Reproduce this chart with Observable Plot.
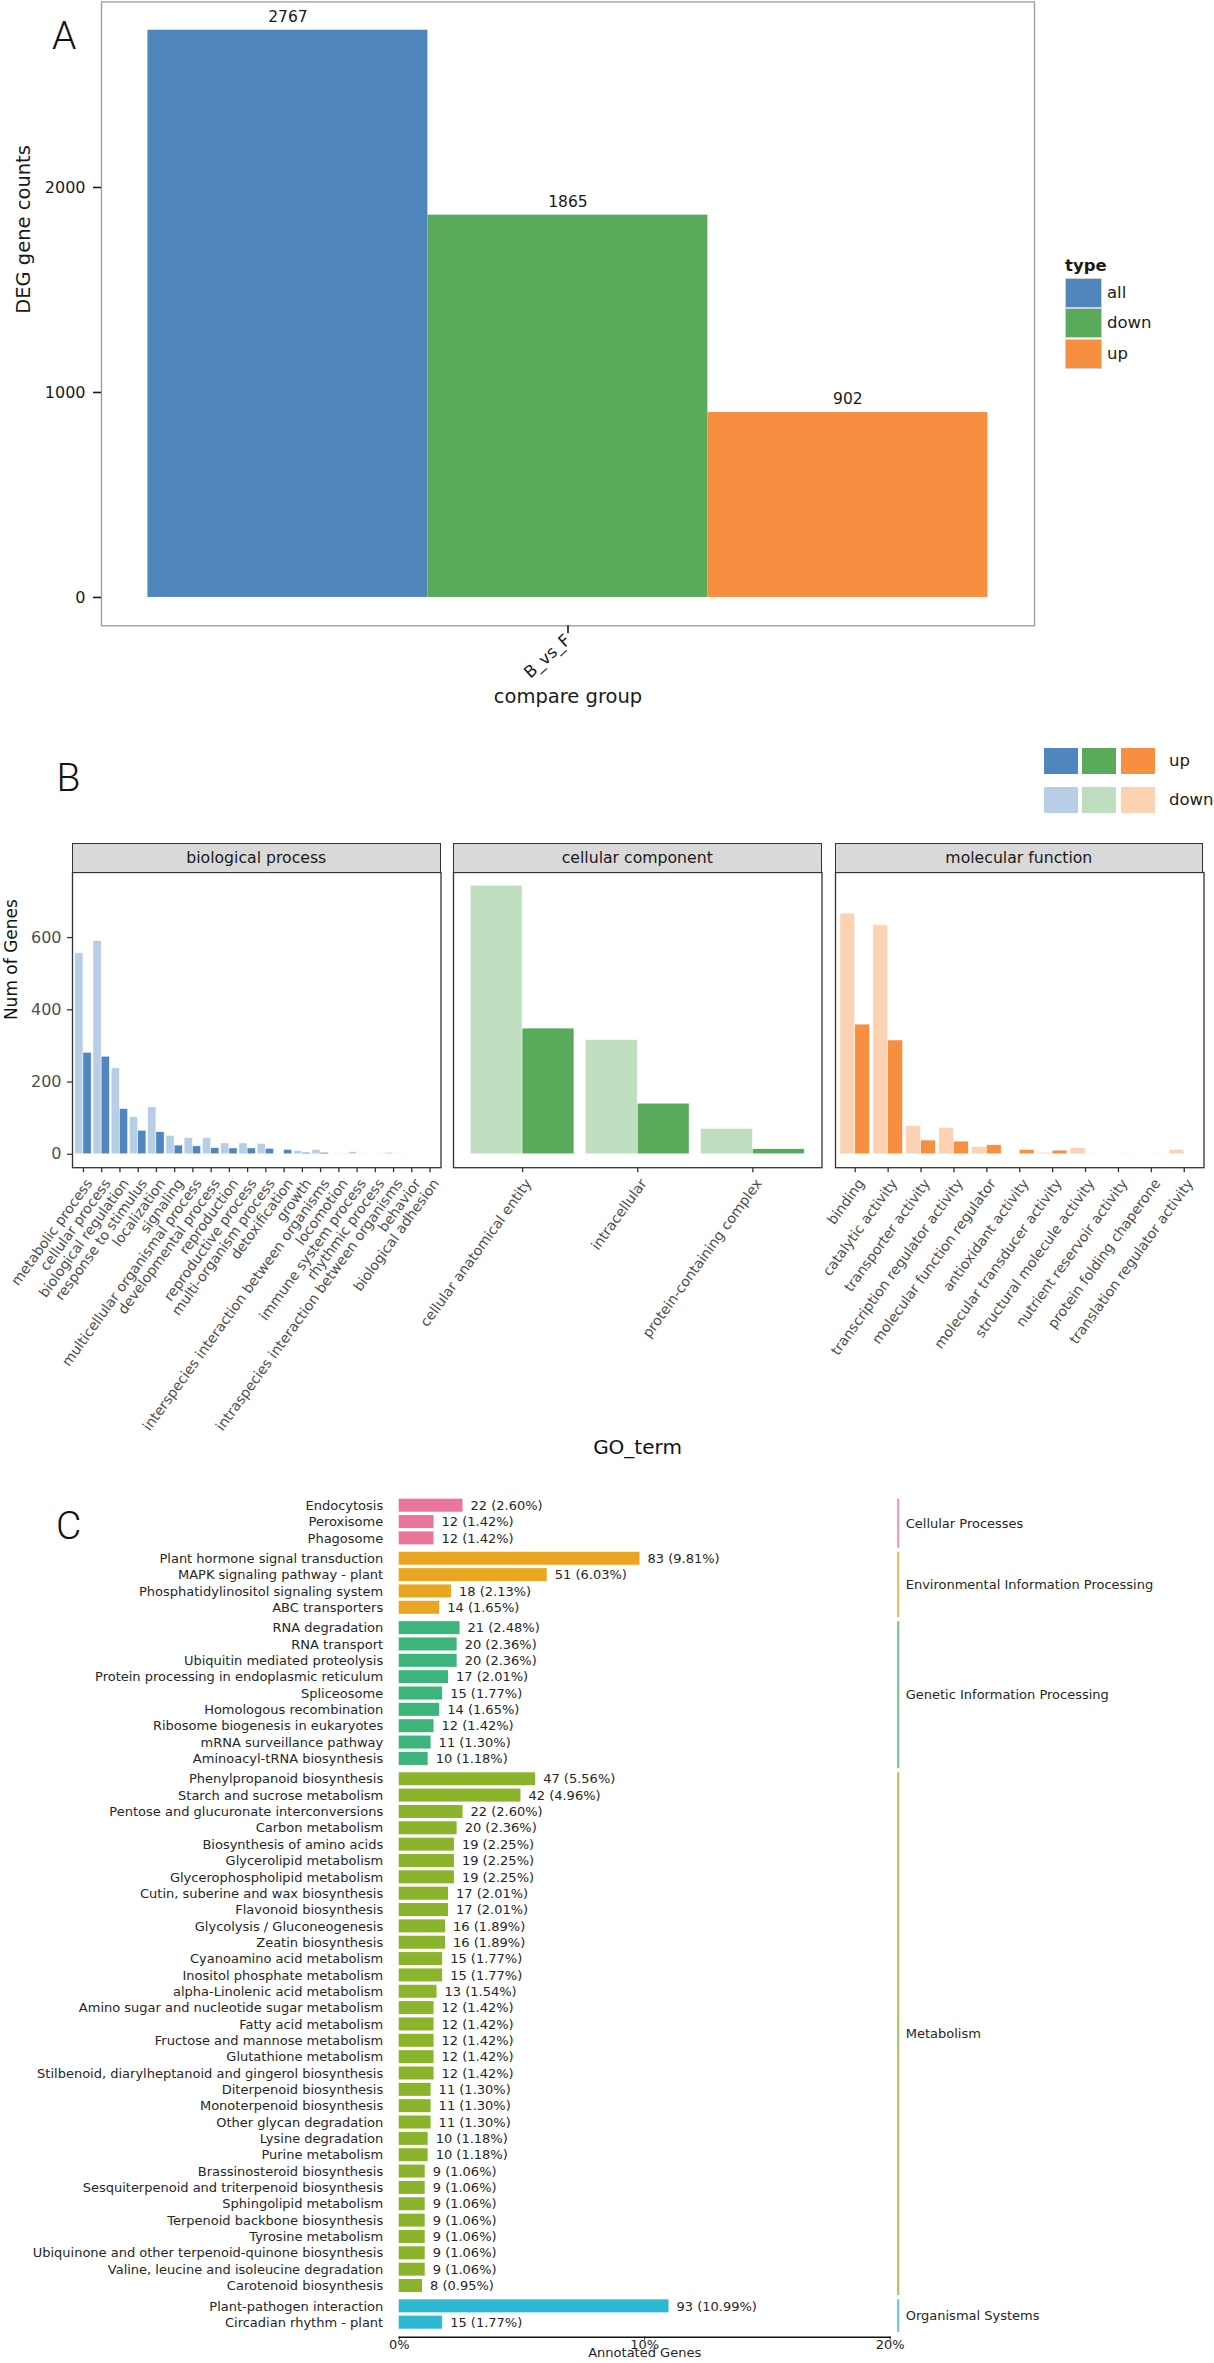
<!DOCTYPE html>
<html><head><meta charset="utf-8">
<script src="https://cdn.jsdelivr.net/npm/d3@7"></script>
<script src="https://cdn.jsdelivr.net/npm/@observablehq/plot@0.6"></script>
<style>
body{margin:0;background:#fff;}
#fig{position:relative;width:1214px;height:2363px;overflow:hidden;background:#fff;font-family:"DejaVu Sans",sans-serif;}
.t{position:absolute;line-height:1;white-space:nowrap;}
.box{position:absolute;box-sizing:border-box;}
.plotwrap{position:absolute;}
.plotwrap svg{overflow:visible;}
</style></head><body><div id="fig"></div>
<script>
// ---------- Panel A data ----------
const compareGroups = ["B_vs_F"];
const degTypes = ["all", "down", "up"];
const degCounts = [2767, 1865, 902];
const degColors = ["#4E86BD", "#5AAA5B", "#F68F40"];
const degTicks = [0, 1000, 2000];

// ---------- Panel B data ----------
const goOntologies = ["biological process", "cellular component", "molecular function"];
const goDarkColors = ["#4E86BD", "#5AAA5B", "#F68F40"];
const goLightColors = ["#B8CEE6", "#BFDEBF", "#FCD2B2"];
const goDirections = ["up", "down"];
const bpTerms = ["metabolic process", "cellular process", "biological regulation", "response to stimulus", "localization", "signaling", "multicellular organismal process", "developmental process", "reproduction", "reproductive process", "multi-organism process", "detoxification", "growth", "interspecies interaction between organisms", "locomotion", "immune system process", "rhythmic process", "intraspecies interaction between organisms", "behavior", "biological adhesion"];
const bpUp   = [281, 270, 125, 65, 61, 24, 22, 17, 16, 16, 15, 12, 4, 4, 1, 1, 1, 1, 0, 0];
const bpDown = [557, 590, 238, 103, 130, 51, 45, 45, 30, 30, 29, 1, 9, 12, 1, 6, 0, 4, 1, 1];
const ccTerms = ["cellular anatomical entity", "intracellular", "protein-containing complex"];
const ccUp   = [348, 140, 14];
const ccDown = [743, 316, 70];
const mfTerms = ["binding", "catalytic activity", "transporter activity", "transcription regulator activity", "molecular function regulator", "antioxidant activity", "molecular transducer activity", "structural molecule activity", "nutrient reservoir activity", "protein folding chaperone", "translation regulator activity"];
const mfUp   = [359, 315, 38, 35, 25, 12, 10, 1, 1, 1, 0];
const mfDown = [666, 634, 78, 73, 20, 1, 4, 17, 1, 0, 12];
const goTicks = [0, 200, 400, 600];

// ---------- Panel C data ----------
const keggClasses = ["Cellular Processes", "Environmental Information Processing", "Genetic Information Processing", "Metabolism", "Organismal Systems"];
const keggClassColors = ["#E9769A", "#EAA623", "#3DB47B", "#8AB42B", "#2DB9D1"];
const keggClassSizes = [3, 4, 9, 32, 2];
const keggPathways = ["Endocytosis", "Peroxisome", "Phagosome",
 "Plant hormone signal transduction", "MAPK signaling pathway - plant", "Phosphatidylinositol signaling system", "ABC transporters",
 "RNA degradation", "RNA transport", "Ubiquitin mediated proteolysis", "Protein processing in endoplasmic reticulum", "Spliceosome", "Homologous recombination", "Ribosome biogenesis in eukaryotes", "mRNA surveillance pathway", "Aminoacyl-tRNA biosynthesis",
 "Phenylpropanoid biosynthesis", "Starch and sucrose metabolism", "Pentose and glucuronate interconversions", "Carbon metabolism", "Biosynthesis of amino acids", "Glycerolipid metabolism", "Glycerophospholipid metabolism", "Cutin, suberine and wax biosynthesis", "Flavonoid biosynthesis", "Glycolysis / Gluconeogenesis", "Zeatin biosynthesis", "Cyanoamino acid metabolism", "Inositol phosphate metabolism", "alpha-Linolenic acid metabolism", "Amino sugar and nucleotide sugar metabolism", "Fatty acid metabolism", "Fructose and mannose metabolism", "Glutathione metabolism", "Stilbenoid, diarylheptanoid and gingerol biosynthesis", "Diterpenoid biosynthesis", "Monoterpenoid biosynthesis", "Other glycan degradation", "Lysine degradation", "Purine metabolism", "Brassinosteroid biosynthesis", "Sesquiterpenoid and triterpenoid biosynthesis", "Sphingolipid metabolism", "Terpenoid backbone biosynthesis", "Tyrosine metabolism", "Ubiquinone and other terpenoid-quinone biosynthesis", "Valine, leucine and isoleucine degradation", "Carotenoid biosynthesis",
 "Plant-pathogen interaction", "Circadian rhythm - plant"];
const keggCounts = [22, 12, 12,
 83, 51, 18, 14,
 21, 20, 20, 17, 15, 14, 12, 11, 10,
 47, 42, 22, 20, 19, 19, 19, 17, 17, 16, 16, 15, 15, 13, 12, 12, 12, 12, 12, 11, 11, 11, 10, 10, 9, 9, 9, 9, 9, 9, 9, 8,
 93, 15];
const keggPercents = [2.60, 1.42, 1.42,
 9.81, 6.03, 2.13, 1.65,
 2.48, 2.36, 2.36, 2.01, 1.77, 1.65, 1.42, 1.30, 1.18,
 5.56, 4.96, 2.60, 2.36, 2.25, 2.25, 2.25, 2.01, 2.01, 1.89, 1.89, 1.77, 1.77, 1.54, 1.42, 1.42, 1.42, 1.42, 1.42, 1.30, 1.30, 1.30, 1.18, 1.18, 1.06, 1.06, 1.06, 1.06, 1.06, 1.06, 1.06, 0.95,
 10.99, 1.77];
const keggTicks = [0, 10, 20];

// ---------- helpers ----------
const fig = document.getElementById("fig");
function addText(str, x, y, o = {}) {
  const d = document.createElement("div");
  d.className = "t";
  d.textContent = str;
  d.style.left = x + "px"; d.style.top = y + "px";
  d.style.fontSize = (o.size || 16) + "px";
  d.style.fontFamily = o.family || '"DejaVu Sans", sans-serif';
  if (o.weight) d.style.fontWeight = o.weight;
  d.style.color = o.color || "#1a1a1a";
  const tx = o.anchor === "start" ? "0" : o.anchor === "end" ? "-100%" : "-50%";
  d.style.transform = `translate(${tx}, -50%)` + (o.rotate ? ` rotate(${o.rotate}deg)` : "");
  fig.appendChild(d);
  return d;
}
function addBox(x, y, w, h, css) {
  const d = document.createElement("div");
  d.className = "box";
  d.style.left = x + "px"; d.style.top = y + "px";
  d.style.width = w + "px"; d.style.height = h + "px";
  Object.assign(d.style, css);
  fig.appendChild(d);
  return d;
}
function addPlot(svg, x, y) {
  const w = document.createElement("div");
  w.className = "plotwrap";
  w.style.left = x + "px"; w.style.top = y + "px";
  w.appendChild(svg);
  fig.appendChild(w);
}
const baseStyle = {fontFamily: '"DejaVu Sans", sans-serif', background: "transparent", overflow: "visible", color: "#1a1a1a"};
const letterCss = {size: 39, family: 'Roboto, "DejaVu Sans", sans-serif', weight: 300, color: "#111", anchor: "start"};

// ---------- Panel A ----------
const degData = degTypes.map((t, i) => ({group: compareGroups[0], type: t, value: degCounts[i]}));
const degMax = d3.max(degCounts);
const plotA = Plot.plot({
  width: 1214, height: 720,
  marginLeft: 100.6, marginRight: 179.6, marginTop: 1.4, marginBottom: 94.7,
  style: baseStyle,
  fx: {domain: compareGroups, padding: 0, label: null},
  x: {domain: degTypes, paddingInner: 0, paddingOuter: 0.1655, axis: null},
  y: {domain: [-0.05 * degMax, 1.05 * degMax], axis: null},
  color: {domain: degTypes, range: degColors},
  marks: [
    Plot.barY(degData, {fx: "group", x: "type", y: "value", fill: "type"}),
    Plot.text(degData, {fx: "group", x: "type", y: "value", text: d => String(d.value), dy: -13.5, fontSize: 15.5, fill: "#1a1a1a"}),
    Plot.frame({stroke: "#9a9a9a", strokeWidth: 1.3}),
    Plot.axisY({ticks: degTicks, tickFormat: d => String(d), tickSize: 8, tickPadding: 8, fontSize: 16, strokeWidth: 1.6, label: null}),
    Plot.axisFx({anchor: "bottom", tickSize: 8, tickPadding: 4, tickRotate: -42, fontSize: 16.5, strokeWidth: 1.6, label: null}),
    Plot.text(["DEG gene counts"], {text: d => d, frameAnchor: "left", dx: -77.6, rotate: -90, fontSize: 19.5}),
    Plot.text(["compare group"], {text: d => d, frameAnchor: "bottom", dy: 77.2, fontSize: 19.5})
  ]
});
addPlot(plotA, 0, 0);
addText("A", 52, 36, letterCss);
// legend A
addText("type", 1065, 266.3, {size: 16.5, weight: "bold", anchor: "start"});
degTypes.forEach((t, i) => {
  addBox(1065.3, 278.2 + i * 30.25, 36.4, 30, {background: degColors[i], border: "1px solid #d0d0d0"});
  addText(t, 1107, 293.2 + i * 30.25, {size: 16.5, anchor: "start"});
});

// ---------- Panel B ----------
const goMax = d3.max([...bpUp, ...bpDown, ...ccUp, ...ccDown, ...mfUp, ...mfDown]);
const goY = [-0.05 * goMax, 1.05 * goMax];
const panelTop = 871.5, panelH = 295.2, svgTop = 870.5, svgH = 575;
const panelLefts = [72, 453, 834.6], panelW = 368.5;
function goPanel(k, terms, up, down) {
  const data = [];
  terms.forEach((t, i) => {
    data.push({i, term: t, dir: "down", value: down[i]});
    data.push({i, term: t, dir: "up", value: up[i]});
  });
  const n = terms.length;
  const mL = k === 0 ? 72 : 1;
  const marks = [
    Plot.rectY(data, {x1: d => d.i - (d.dir === "down" ? 0.45 : 0), x2: d => d.i + (d.dir === "up" ? 0.45 : 0), y1: 0, y2: "value", fill: "dir", stroke: "#fff", strokeWidth: 0.6, strokeOpacity: 0.8}),
    Plot.frame({stroke: "#333", strokeWidth: 1.3}),
    Plot.axisX({ticks: d3.range(n), tickFormat: i => terms[i], tickSize: 5, strokeWidth: 1.3, stroke: "#333", text: null, label: null}),
    Plot.axisX({ticks: d3.range(n), tickFormat: i => terms[i], tickSize: 0, tickPadding: 8, tickRotate: -54, dx: 6, dy: 5, fontSize: 14, fill: "#4d4d4d", label: null})
  ];
  if (k === 0) {
    marks.push(Plot.axisY({ticks: goTicks, tickSize: 5, tickPadding: 6, fontSize: 16, fill: "#4d4d4d", stroke: "#333", strokeWidth: 1.3, label: null}));
    marks.push(Plot.text(["Num of Genes"], {text: d => d, frameAnchor: "left", dx: -61, rotate: -90, fontSize: 17, fill: "#111"}));
  }
  const p = Plot.plot({
    width: mL + panelW + 1, height: svgH,
    marginLeft: mL, marginRight: 1, marginTop: panelTop - svgTop, marginBottom: svgH - (panelTop - svgTop) - panelH,
    style: baseStyle,
    x: {domain: [-0.6, n - 1 + 0.6], axis: null},
    y: {domain: goY, axis: null},
    color: {domain: goDirections, range: [goDarkColors[k], goLightColors[k]]},
    marks
  });
  addPlot(p, panelLefts[k] - mL, svgTop);
  addBox(panelLefts[k], 843, panelW, 29.5, {background: "#d9d9d9", border: "1.3px solid #333"});
  addText(goOntologies[k], panelLefts[k] + panelW / 2, 857.7, {size: 15.7, color: "#1a1a1a"});
}
goPanel(0, bpTerms, bpUp, bpDown);
goPanel(1, ccTerms, ccUp, ccDown);
goPanel(2, mfTerms, mfUp, mfDown);
addText("GO_term", 637.5, 1447, {size: 20, color: "#111"});
addText("B", 56.5, 777.5, letterCss);
goDarkColors.forEach((c, i) => {
  addBox(1043.7 + i * 38.65, 747.5, 34, 26.5, {background: c});
  addBox(1043.7 + i * 38.65, 786.6, 34, 26.5, {background: goLightColors[i]});
});
addText("up", 1169, 761, {size: 16.5, anchor: "start"});
addText("down", 1169, 800, {size: 16.5, anchor: "start"});

// ---------- Panel C ----------
const classGap = 4 / 16.33;
const barHalf = 0.398;
const keggRows = [];
{
  let r = 0;
  keggClassSizes.forEach((n, g) => {
    for (let j = 0; j < n; j++) {
      keggRows.push({name: keggPathways[r], count: keggCounts[r], pct: keggPercents[r], cls: keggClasses[g], pos: r + g * classGap});
      r++;
    }
  });
}
const keggGroups = keggClasses.map(c => {
  const rows = keggRows.filter(d => d.cls === c);
  const y1 = rows[0].pos - barHalf, y2 = rows[rows.length - 1].pos + 1 - barHalf;
  return {cls: c, y1, y2, mid: (y1 + y2) / 2};
});
const lastPos = keggRows[keggRows.length - 1].pos;
const xMax = keggTicks[keggTicks.length - 1];
const plotC = Plot.plot({
  width: 1214, height: 883,
  marginLeft: 398.7, marginRight: 324.3, marginTop: 18.7, marginBottom: 26.3,
  style: baseStyle,
  x: {domain: [0, xMax], axis: null},
  y: {domain: [-barHalf, lastPos + 0.888], reverse: true, axis: null},
  color: {domain: keggClasses, range: keggClassColors},
  marks: [
    Plot.rectX(keggRows, {x1: 0, x2: "pct", y1: d => d.pos - barHalf, y2: d => d.pos + barHalf, fill: "cls"}),
    Plot.text(keggRows, {x: 0, y: "pos", text: "name", textAnchor: "end", dx: -16, fontSize: 13, fill: "#262626"}),
    Plot.text(keggRows, {x: "pct", y: "pos", text: d => `${d.count} (${d.pct.toFixed(2)}%)`, textAnchor: "start", dx: 7.5, fontSize: 13, fill: "#262626"}),
    Plot.ruleX(keggGroups, {x: () => xMax, dx: 8, y1: "y1", y2: "y2", stroke: "cls", strokeWidth: 2.2, strokeOpacity: 0.75}),
    Plot.text(keggGroups, {x: () => xMax, y: "mid", dx: 15.5, text: "cls", textAnchor: "start", fontSize: 13, fill: "#262626"}),
    Plot.frame({anchor: "bottom", stroke: "#111", strokeWidth: 1.4}),
    Plot.axisX({ticks: keggTicks, tickFormat: d => d + "%", tickSize: 3, tickPadding: 0, fontSize: 13, fill: "#262626", label: null}),
    Plot.text(["Annotated Genes"], {text: d => d, frameAnchor: "bottom", dy: 19.3, fontSize: 13, fill: "#262626"})
  ]
});
addPlot(plotC, 0, 1480);
addText("C", 56, 1525.5, letterCss);
</script></body></html>
